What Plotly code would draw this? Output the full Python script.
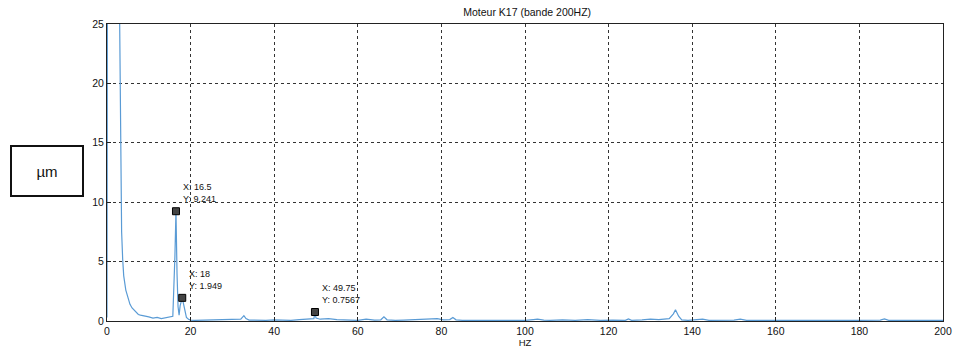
import plotly.graph_objects as go

# Spectrum (frequency in Hz, amplitude in µm)
freq = [0, 0.5, 2.5, 3.25, 3.5, 3.75, 4, 4.5, 5, 5.5, 6, 6.5, 7, 7.5, 8, 9, 10, 11, 12, 13, 14, 15,
        15.75, 16.25, 16.5, 16.75, 17, 17.25, 17.5, 18, 18.5, 19, 19.5, 20, 21, 22, 24, 26, 28, 30,
        31, 32, 32.75, 33.25, 34, 36, 38, 40, 42, 44, 46, 48, 49.5, 49.75, 50, 51, 53, 55, 57, 58,
        60, 62, 64, 65.5, 66.25, 67, 69, 71, 73, 75, 77, 79, 80.5, 82, 82.75, 83.5, 85, 88, 91, 94,
        97, 100, 102, 103, 104.5, 106, 109, 112, 115, 118, 121, 124, 124.75, 125.5, 128, 130, 132,
        133, 134.5, 135.5, 136, 136.75, 137.5, 139, 141, 142.5, 144, 147, 150, 151.5, 153, 156,
        160, 165, 170, 175, 180, 185, 186, 187, 190, 195, 200]
amp = [0.3, 140, 45, 11, 7.5, 5.2, 3.8, 2.6, 1.9, 1.4, 1.1, 0.9, 0.7, 0.55, 0.5, 0.45, 0.35, 0.25, 0.3, 0.2, 0.25, 0.3,
       0.4, 5.5, 9.241, 4.0, 1.2, 0.5, 1.3, 1.949, 1.0, 0.3, 0.15, 0.08, 0.05, 0.06, 0.08, 0.05, 0.1, 0.12,
       0.1, 0.15, 0.45, 0.2, 0.08, 0.05, 0.06, 0.1, 0.08, 0.05, 0.12, 0.15, 0.2, 0.7567, 0.25, 0.15, 0.2, 0.12, 0.08, 0.1,
       0.05, 0.15, 0.08, 0.1, 0.35, 0.1, 0.05, 0.08, 0.1, 0.15, 0.18, 0.2, 0.1, 0.12, 0.3, 0.1, 0.06, 0.05, 0.08, 0.05,
       0.06, 0.05, 0.12, 0.15, 0.08, 0.05, 0.1, 0.06, 0.12, 0.05, 0.08, 0.05, 0.18, 0.06, 0.1, 0.15, 0.12,
       0.15, 0.2, 0.6, 0.95, 0.4, 0.1, 0.05, 0.08, 0.15, 0.06, 0.05, 0.08, 0.15, 0.05, 0.06,
       0.05, 0.06, 0.08, 0.05, 0.06, 0.08, 0.18, 0.06, 0.05, 0.06, 0.05]

tip_x = [16.5, 18, 49.75]
tip_y = [9.241, 1.949, 0.7567]
tip_text = ["X: 16.5<br>Y: 9.241", "X: 18<br>Y: 1.949", "X: 49.75<br>Y: 0.7567"]

x_ticks = [0, 20, 40, 60, 80, 100, 120, 140, 160, 180, 200]
y_ticks = [0, 5, 10, 15, 20, 25]

title = "Moteur K17 (bande 200HZ)"
x_title = "HZ"
unit_label = "µm"

font_family = "Liberation Sans, Arial, sans-serif"

fig = go.Figure()
fig.add_trace(go.Scatter(x=freq, y=amp, mode="lines",
                         line=dict(color="#5a9bd5", width=1.2),
                         showlegend=False, hoverinfo="skip"))
fig.add_trace(go.Scatter(x=tip_x, y=tip_y, mode="markers",
                         marker=dict(symbol="square", size=7, color="#444444",
                                     line=dict(color="#000000", width=1)),
                         showlegend=False, cliponaxis=False))

for tx, ty, tt in zip(tip_x, tip_y, tip_text):
    fig.add_annotation(x=tx, y=ty, xref="x", yref="y", text=tt, showarrow=False,
                       xanchor="left", yanchor="bottom", align="left",
                       xshift=5, yshift=5,
                       font=dict(family=font_family, size=9, color="#111111"))

fig.add_annotation(xref="paper", yref="paper", x=-0.0718, y=0.505,
                   text=unit_label, showarrow=False, xanchor="center", yanchor="middle",
                   width=70, height=48, borderpad=0, bordercolor="#111111", borderwidth=2,
                   font=dict(family=font_family, size=15, color="#111111"))

grid_style = dict(showgrid=True, gridcolor="#333333", gridwidth=1, griddash="3px,3px",
                  showline=True, linecolor="#222222", linewidth=1, mirror=True,
                  ticks="inside", ticklen=4, tickcolor="#222222", zeroline=False,
                  automargin=False,
                  tickfont=dict(family=font_family, size=10.5, color="#111111"))

fig.update_xaxes(range=[0, 200], tickvals=x_ticks, **grid_style,
                 title=dict(text=x_title, standoff=2,
                            font=dict(family=font_family, size=9.5, color="#111111")))
fig.update_yaxes(range=[0, 25], tickvals=y_ticks, **grid_style)

fig.update_layout(
    width=955, height=349,
    margin=dict(l=107, r=12, t=24, b=28, autoexpand=False),
    paper_bgcolor="white", plot_bgcolor="white",
    title=dict(text=title, x=0.552, xanchor="center", yref="container", y=0.965, yanchor="middle",
               font=dict(family=font_family, size=10.5, color="#111111")),
)

fig.write_html("out.html")
